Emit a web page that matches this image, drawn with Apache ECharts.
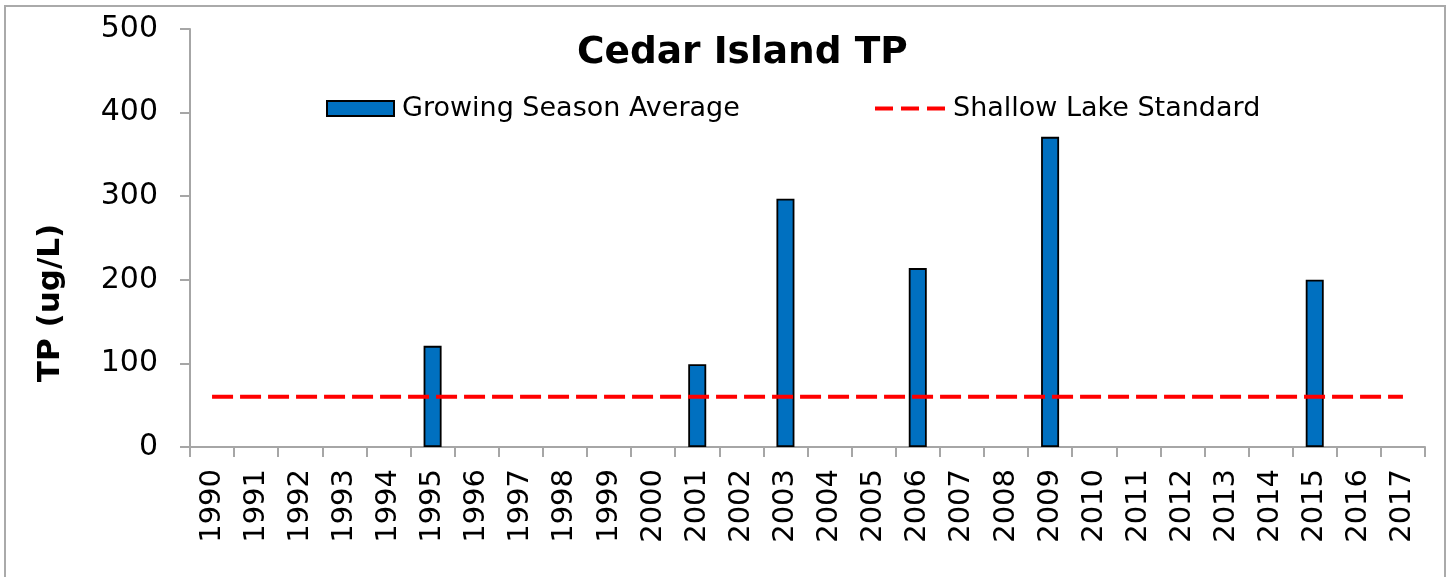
<!DOCTYPE html>
<html>
<head>
<meta charset="utf-8">
<script src="https://cdn.jsdelivr.net/npm/echarts@6/dist/echarts.min.js"></script>
<style>
  html, body { margin: 0; padding: 0; background: #fff; }
  #main { width: 1452px; height: 577px; }
</style>
</head>
<body>
<div id="main"></div>
<script>
var years = ['1990', '1991', '1992', '1993', '1994', '1995', '1996', '1997', '1998', '1999',
  '2000', '2001', '2002', '2003', '2004', '2005', '2006', '2007', '2008', '2009',
  '2010', '2011', '2012', '2013', '2014', '2015', '2016', '2017'];
var growingSeasonAvg = [null, null, null, null, null, 121, null, null, null, null,
  null, 99, null, 297, null, null, 214, null, null, 371,
  null, null, null, null, null, 200, null, null];
var shallowLakeStd = [60, 60, 60, 60, 60, 60, 60, 60, 60, 60,
  60, 60, 60, 60, 60, 60, 60, 60, 60, 60,
  60, 60, 60, 60, 60, 60, 60, 60];

var font = '"DejaVu Sans", Verdana, sans-serif';
var axisGray = '#a6a6a6';

var myChart = echarts.init(document.getElementById('main'));

var option = {
    backgroundColor: '#fff',
    animation: false,
    textStyle: { fontFamily: font },
    title: {
        text: 'Cedar Island TP',
        left: 572,
        top: 29,
        textStyle: { fontSize: 37.5, fontWeight: 'bold', color: '#000', fontFamily: font }
    },
    legend: [{
        data: [{ name: 'Growing Season Average', icon: 'rect' }],
        left: 321,
        top: 90,
        itemWidth: 67,
        itemHeight: 15,
        itemGap: 0,
        textStyle: { fontSize: 27, color: '#000', fontFamily: font, padding: [0, 0, 0, 3] }
    }, {
        data: ['Shallow Lake Standard'],
        left: 868,
        top: 90,
        itemWidth: 70,
        itemHeight: 15,
        lineStyle: { type: [18, 8], width: 4 },
        itemStyle: { opacity: 0 },
        textStyle: { fontSize: 27, color: '#000', fontFamily: font, padding: [0, 0, 0, 3] }
    }],
    grid: {
        left: 190,
        right: 27,
        top: 29,
        bottom: 130,
        containLabel: false
    },
    xAxis: {
        type: 'category',
        data: years,
        boundaryGap: true,
        axisLine: { lineStyle: { color: axisGray, width: 2 } },
        axisTick: { show: true, length: 10, inside: false, lineStyle: { color: axisGray, width: 2 } },
        axisLabel: {
            rotate: 90,
            interval: 0,
            margin: 22,
            fontSize: 29,
            color: '#000',
            fontFamily: font
        },
        splitLine: { show: false }
    },
    yAxis: {
        type: 'value',
        min: 0,
        max: 500,
        interval: 100,
        axisLine: { show: true, lineStyle: { color: axisGray, width: 2 } },
        axisTick: { show: true, length: 10, lineStyle: { color: axisGray, width: 2 } },
        axisLabel: { fontSize: 30, color: '#000', margin: 32, fontFamily: font },
        splitLine: { show: false }
    },
    graphic: [{
        type: 'rect',
        shape: { x: 5, y: 6, width: 1440, height: 600 },
        style: { fill: 'none', stroke: '#aaaaaa', lineWidth: 2 },
        silent: true
    }, {
        type: 'text',
        x: 51,
        y: 303,
        rotation: Math.PI / 2,
        style: {
            text: 'TP (ug/L)',
            font: 'bold 31px ' + font,
            fill: '#000',
            align: 'center',
            verticalAlign: 'middle'
        },
        silent: true
    }],
    series: [{
        name: 'Growing Season Average',
        type: 'bar',
        data: growingSeasonAvg,
        barWidth: 18,
        itemStyle: { color: '#0070C0', borderColor: '#000', borderWidth: 1.8 }
    }, {
        name: 'Shallow Lake Standard',
        type: 'line',
        data: shallowLakeStd,
        symbol: 'none',
        lineStyle: { color: '#ff0000', width: 4, type: [21, 7] },
        itemStyle: { color: '#ff0000' },
        z: 3
    }]
};

myChart.setOption(option);
</script>
</body>
</html>
